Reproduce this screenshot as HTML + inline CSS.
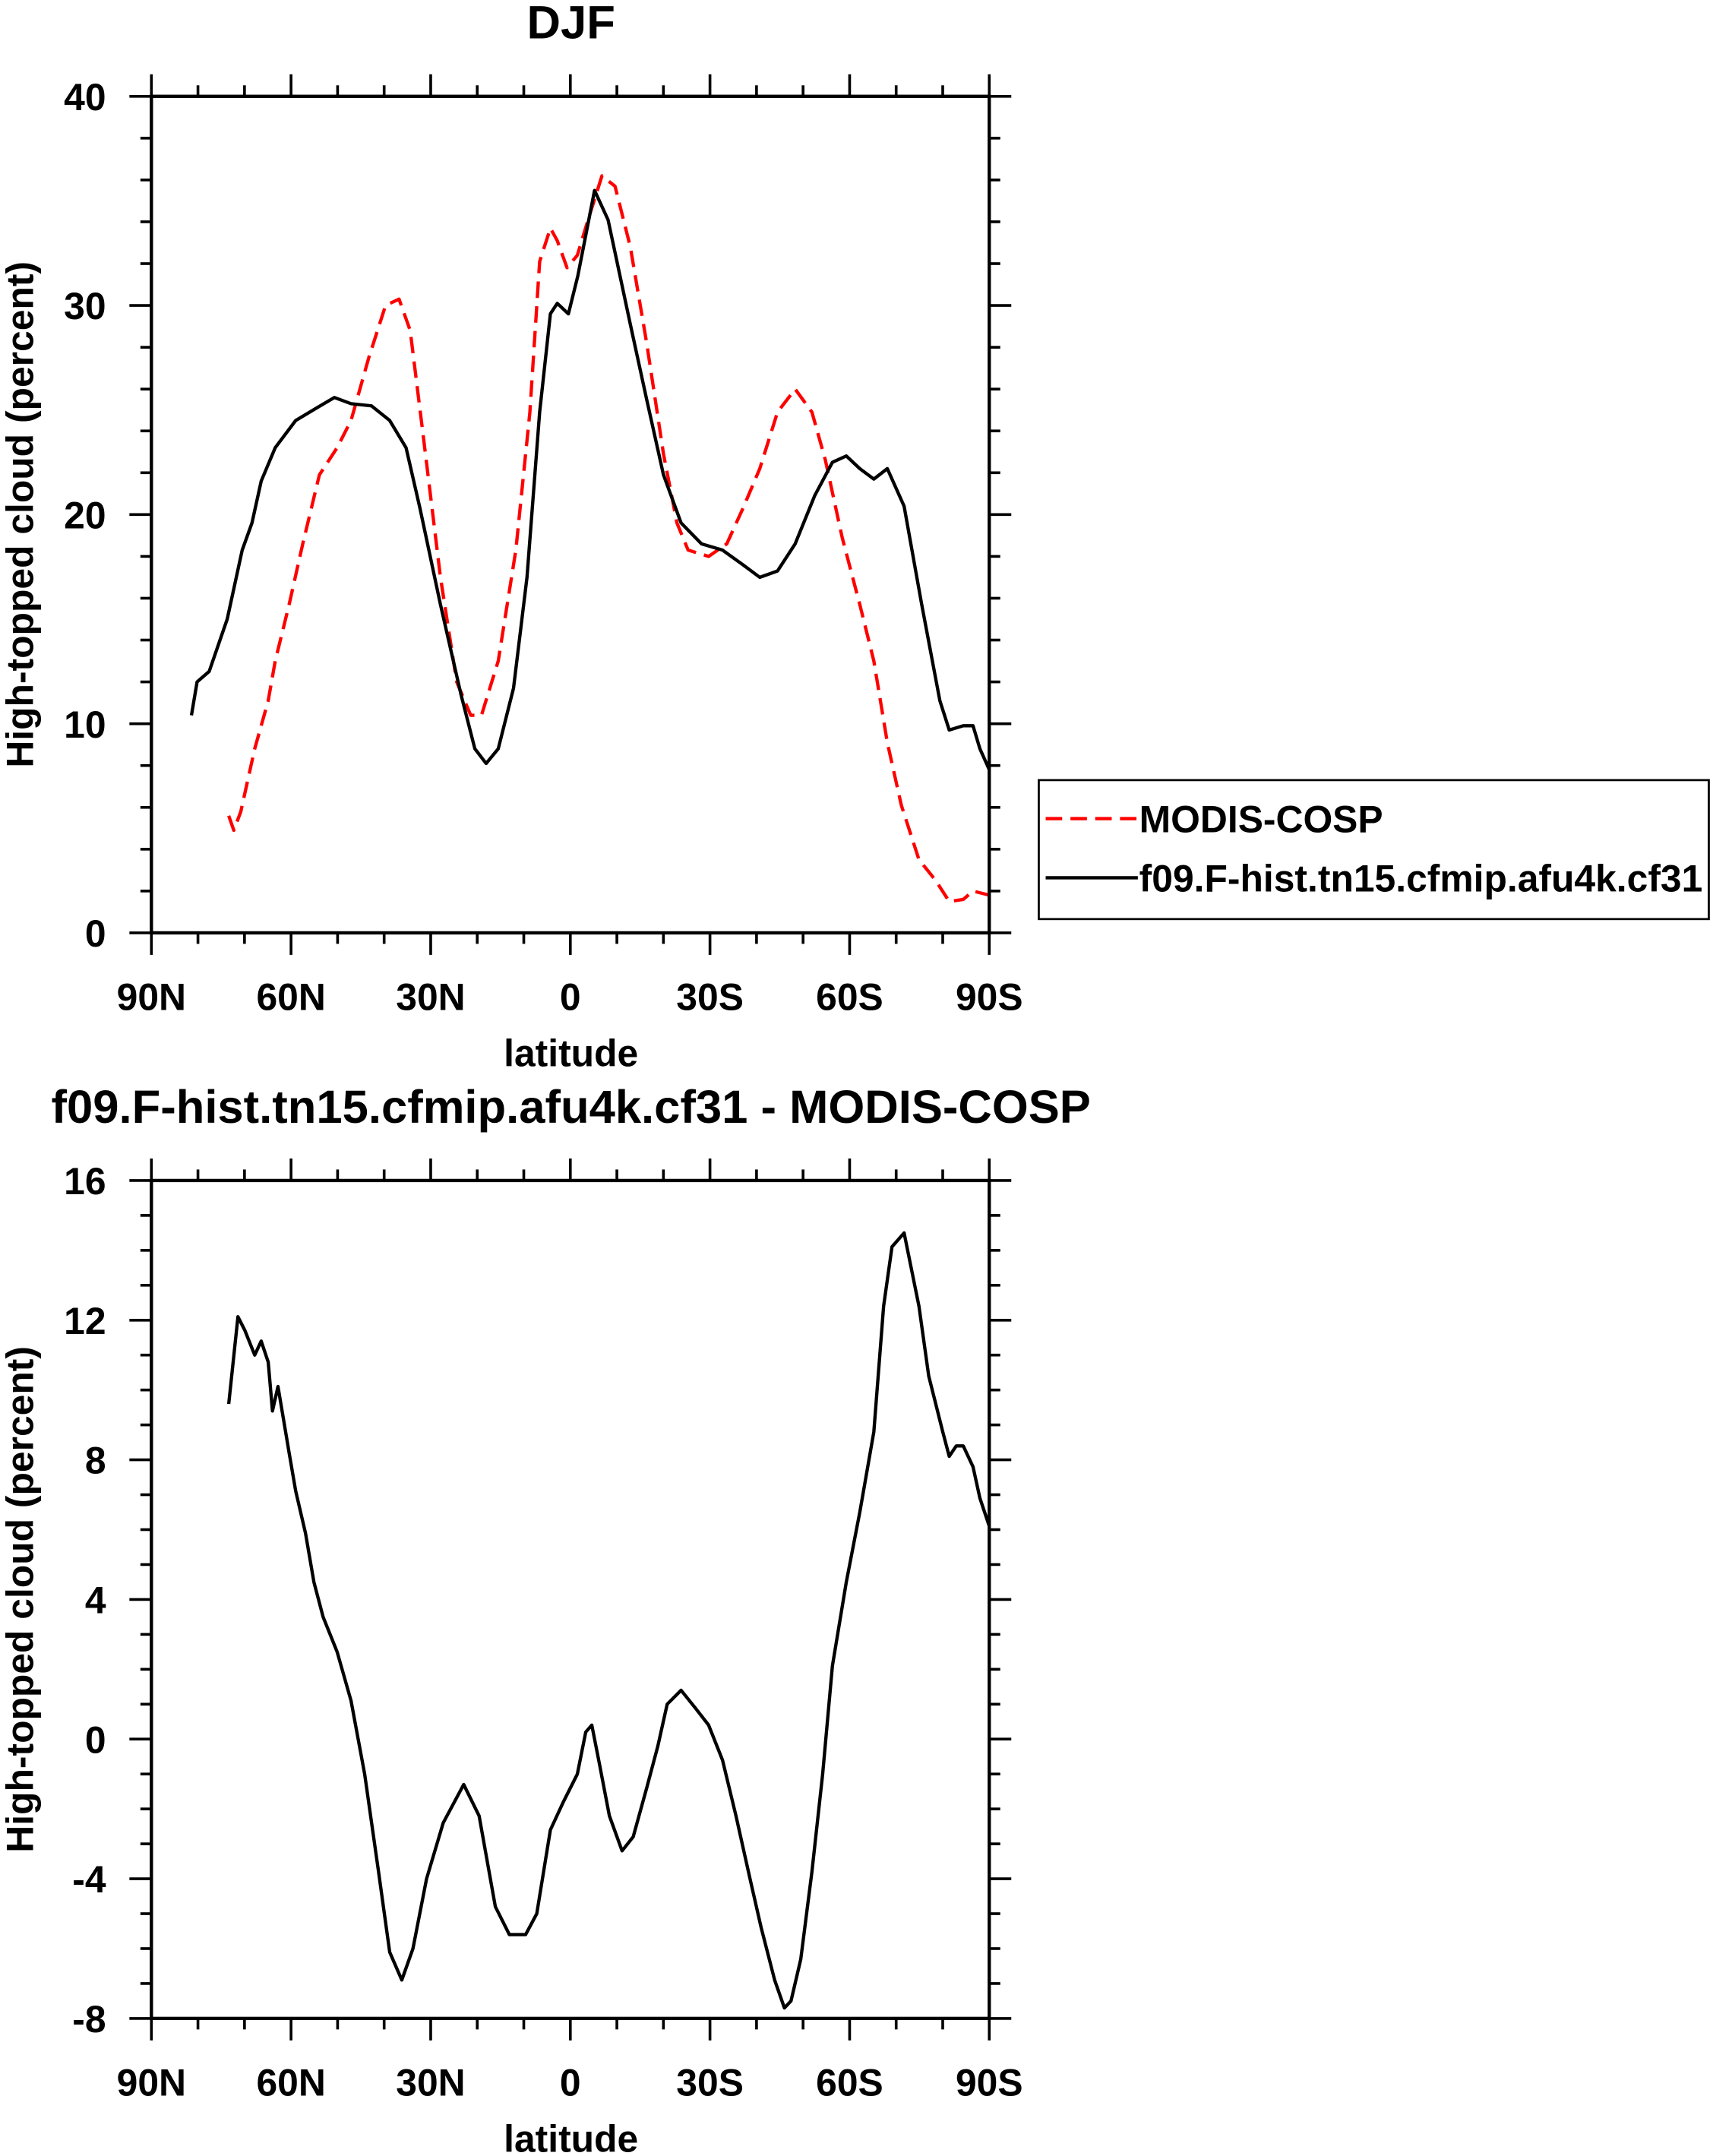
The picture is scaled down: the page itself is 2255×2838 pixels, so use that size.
<!DOCTYPE html>
<html><head><meta charset="utf-8"><style>
html,body{margin:0;padding:0;background:#fff;}
svg{display:block;font-family:"Liberation Sans",Arial,sans-serif;font-weight:bold;}
</style></head><body>
<svg id="chart" width="2255" height="2838" viewBox="0 0 1245 1567" xmlns="http://www.w3.org/2000/svg">
<rect width="1245" height="1567" fill="#fff"/>
</svg>
<script>
const latTicks=[90,60,30,0,-30,-60,-90];
const latLabels=["90N","60N","30N","0","30S","60S","90S"];
const topYTicks=[0,10,20,30,40];
const botYTicks=[-8,-4,0,4,8,12,16];
const modelLat=[81.4,80.2,77.6,73.7,70.5,68.4,66.4,63.4,59.0,54.5,50.7,47.1,42.7,38.8,35.3,32.3,27.9,23.5,20.5,18.1,15.5,12.2,9.3,6.6,4.3,2.8,0.4,-1.6,-5.2,-8.1,-12.9,-16.4,-20.0,-23.8,-28.2,-32.7,-37.1,-40.7,-44.5,-48.3,-52.5,-56.3,-59.3,-62.2,-65.2,-68.1,-71.7,-75.5,-79.4,-81.4,-84.4,-86.5,-88.0,-90];
const modelVal=[10.4,12.0,12.5,15,18.3,19.6,21.6,23.2,24.5,25.1,25.6,25.3,25.2,24.5,23.2,20.3,15.7,11.4,8.8,8.1,8.8,11.7,17,24.9,29.6,30.1,29.6,31.4,35.5,34.1,29.1,25.5,21.9,19.6,18.6,18.3,17.6,17,17.3,18.6,20.9,22.5,22.8,22.2,21.7,22.2,20.4,15.7,11.1,9.7,9.9,9.9,8.8,7.8];
const obsLat=[73.4,72.3,70.8,67.8,64.9,63.4,60.4,57.5,53.9,50.1,47.1,43.3,39.7,36.8,34.4,31.5,27.9,24.4,21.4,19.1,15.5,11.7,8.7,6.6,4.3,2.8,0.7,-1.5,-3.8,-6.8,-9.6,-12.9,-16.4,-20,-22.9,-25.3,-29.7,-33.6,-37.1,-40.7,-44.5,-48.3,-51.9,-54.8,-58.4,-62.2,-65.2,-68.1,-71.1,-74.9,-78.5,-81.4,-84.4,-86.5,-90];
const obsVal=[5.6,4.9,5.8,8.8,11.1,13,15.7,18.6,21.9,23.2,24.5,27.5,30.0,30.3,28.8,23.6,17,12.0,10.4,10.4,13,18.3,24.9,32.1,33.7,33.1,31.8,32.4,34.1,36.2,35.7,32.8,28.2,22.9,19.6,18.3,18.0,18.6,20.3,22.2,24.9,26.0,24.9,22.6,18.9,15.7,13,9.1,6.1,3.5,2.5,1.5,1.6,2.0,1.8];
const diffLat=[73.4,71.4,69.9,67.8,66.4,64.9,64.0,62.8,60.4,59.0,56.9,55.1,53.1,50.1,47.1,44.2,41.2,38.8,36.2,33.8,30.9,27.3,22.9,19.6,16.1,13.1,9.6,7.2,4.3,1.5,-1.5,-3.3,-4.6,-6.1,-8.4,-11.1,-13.5,-16.4,-18.8,-20.8,-23.8,-26.8,-29.7,-32.7,-35.6,-38.6,-41.0,-43.9,-46.0,-47.4,-49.5,-51.9,-54.2,-56.3,-59.3,-62.2,-65.2,-67.3,-69.1,-71.7,-74.9,-77.0,-80.0,-81.4,-82.9,-84.4,-86.5,-88.0,-90];
const diffVal=[9.6,12.1,11.7,11.0,11.4,10.8,9.4,10.1,8.2,7.1,5.9,4.5,3.5,2.5,1.1,-1.0,-3.8,-6.1,-6.9,-6.0,-4.0,-2.4,-1.3,-2.2,-4.8,-5.6,-5.6,-5.0,-2.6,-1.8,-1.0,0.2,0.4,-0.6,-2.2,-3.2,-2.8,-1.4,-0.2,1.0,1.4,0.9,0.4,-0.6,-2.2,-4.0,-5.4,-6.9,-7.7,-7.5,-6.3,-3.8,-1.0,2.1,4.5,6.5,8.8,12.4,14.1,14.5,12.4,10.4,8.8,8.1,8.4,8.4,7.8,6.9,6.1];

const svg=document.getElementById('chart');
const NS='http://www.w3.org/2000/svg';
function mk(tag,attrs,parent){const e=document.createElementNS(NS,tag);for(const k in attrs)e.setAttribute(k,attrs[k]);(parent||svg).appendChild(e);return e;}
const X0=110,X1=719;
const FS=27.5;
function xs(lat){return X0+(90-lat)/180*(X1-X0);}

function panel(name,yTop,yBot,ymin,ymax,yTicks,yMinorStep,title,series){
  const g=mk('g',{});
  
  
  const ys=v=>yBot-(v-ymin)/(ymax-ymin)*(yBot-yTop);
  for(let l=90;l>=-90;l-=10){
    const x=xs(l);const maj=(l%30===0);const len=maj?16:8;
    const t1=mk('line',{x1:x,x2:x,y1:yTop,y2:yTop-len,stroke:'#000','stroke-width':2},g);
    
    const t2=mk('line',{x1:x,x2:x,y1:yBot,y2:yBot+len,stroke:'#000','stroke-width':2},g);
    
  }
  for(let v=ymin;v<=ymax+1e-9;v+=yMinorStep){
    const y=ys(v);const maj=yTicks.some(t=>Math.abs(t-v)<1e-9);const len=maj?16:8;
    const t1=mk('line',{x1:X0,x2:X0-len,y1:y,y2:y,stroke:'#000','stroke-width':2},g);
    
    const t2=mk('line',{x1:X1,x2:X1+len,y1:y,y2:y,stroke:'#000','stroke-width':2},g);
    
  }
  latTicks.forEach((l,i)=>{
    const t=mk('text',{x:xs(l),y:yBot+56,'text-anchor':'middle','font-size':FS},g);
    
    t.textContent=latLabels[i];
  });
  yTicks.forEach(v=>{
    const t=mk('text',{x:77,y:ys(v)+10,'text-anchor':'end','font-size':FS},g);
    
    t.textContent=String(v);
  });
  const xt=mk('text',{x:415,y:yBot+97,'text-anchor':'middle','font-size':FS},g);
  
  xt.textContent='latitude';
  const yc=(yTop+yBot)/2;
  const yt=mk('text',{x:24,y:yc,'text-anchor':'middle','font-size':FS,transform:`rotate(-90 24 ${yc})`},g);
  
  yt.textContent='High-topped cloud (percent)';
  const tt=mk('text',{x:title.x,y:yTop-42,'text-anchor':'middle','font-size':34},g);
  
  tt.textContent=title.text;
  series.forEach(s=>{
    const d=s.lat.map((l,i)=>(i?'L':'M')+xs(l).toFixed(1)+' '+ys(s.val[i]).toFixed(1)).join(' ');
    const p=mk('path',{d:d,fill:'none',stroke:s.color,'stroke-width':2.4,'stroke-dasharray':s.dash||'none','stroke-linejoin':'round'},g);
    
  });
  const fr=mk('rect',{x:X0,y:yTop,width:X1-X0,height:yBot-yTop,fill:'none',stroke:'#000','stroke-width':2.4},g);
  
}
panel('top-panel',70,678,0,40,topYTicks,2,{x:415,text:'DJF'},[
  {name:'modis-cosp-line',lat:obsLat,val:obsVal,color:'#f00',dash:'12 6'},
  {name:'model-line',lat:modelLat,val:modelVal,color:'#000'}]);
panel('bottom-panel',858,1467,-8,16,botYTicks,1,{x:415,text:'f09.F-hist.tn15.cfmip.afu4k.cf31 - MODIS-COSP'},[
  {name:'difference-line',lat:diffLat,val:diffVal,color:'#000'}]);

const lg=mk('g',{});

mk('rect',{x:755,y:567,width:487,height:101,fill:'#fff',stroke:'#000','stroke-width':1.5},lg);
const l1=mk('line',{x1:760,x2:827,y1:595,y2:595,stroke:'#f00','stroke-width':2.4,'stroke-dasharray':'12 6'},lg);

const t1=mk('text',{x:828,y:605,'font-size':FS},lg);

t1.textContent='MODIS-COSP';
const l2=mk('line',{x1:760,x2:827,y1:638,y2:638,stroke:'#000','stroke-width':2.4},lg);

const t2=mk('text',{x:828,y:648,'font-size':FS},lg);

t2.textContent='f09.F-hist.tn15.cfmip.afu4k.cf31';
</script>
</body></html>
